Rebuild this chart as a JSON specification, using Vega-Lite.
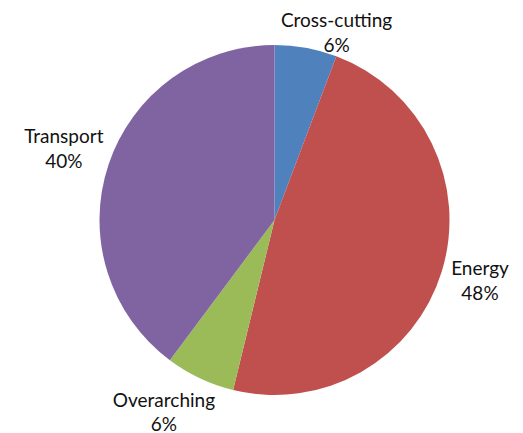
{
  "$schema": "https://vega.github.io/schema/vega-lite/v6.json",
  "width": 523,
  "height": 433,
  "autosize": {"type": "fit", "contains": "padding"},
  "padding": {"left": 26, "top": 7, "right": 0, "bottom": 0},
  "background": "white",
  "view": {"stroke": null},
  "data": {
    "values": [
      {"category": "Cross-cutting", "value": 5.75, "pct": "6%"},
      {"category": "Energy", "value": 48.05, "pct": "48%"},
      {"category": "Overarching", "value": 6.4, "pct": "6%"},
      {"category": "Transport", "value": 39.8, "pct": "40%"}
    ]
  },
  "transform": [
    {"stack": "value", "groupby": [], "sort": [{"field": "category", "order": "ascending"}], "as": ["v0", "v1"]},
    {"calculate": "(datum.v0 + datum.v1) / 2", "as": "mid"},
    {"calculate": "datum.category + '\\n' + datum.pct", "as": "label"}
  ],
  "layer": [
    {
      "mark": {"type": "arc", "outerRadius": 175},
      "encoding": {
        "theta": {"field": "v0", "type": "quantitative", "stack": null, "scale": {"domain": [0, 100]}},
        "theta2": {"field": "v1"},
        "color": {
          "field": "category",
          "type": "nominal",
          "scale": {"domain": ["Cross-cutting", "Energy", "Overarching", "Transport"], "range": ["#4F81BD", "#C0504D", "#9BBB59", "#8064A2"]},
          "legend": null
        }
      }
    },
    {
      "transform": [{"filter": "datum.category === 'Cross-cutting'"}],
      "mark": {"type": "text", "radius": 195, "dx": 27, "dy": -7, "fontSize": 19, "font": "Lato", "lineBreak": "\n", "lineHeight": 25, "align": "center", "baseline": "middle", "color": "#111111"},
      "encoding": {"theta": {"field": "mid", "type": "quantitative", "stack": null}, "text": {"field": "label"}}
    },
    {
      "transform": [{"filter": "datum.category === 'Energy'"}],
      "mark": {"type": "text", "radius": 213, "dx": 2, "dy": -14, "fontSize": 19, "font": "Lato", "lineBreak": "\n", "lineHeight": 25, "align": "center", "baseline": "middle", "color": "#111111"},
      "encoding": {"theta": {"field": "mid", "type": "quantitative", "stack": null}, "text": {"field": "label"}}
    },
    {
      "transform": [{"filter": "datum.category === 'Overarching'"}],
      "mark": {"type": "text", "radius": 215, "dx": -19, "dy": -14, "fontSize": 19, "font": "Lato", "lineBreak": "\n", "lineHeight": 24, "align": "center", "baseline": "middle", "color": "#111111"},
      "encoding": {"theta": {"field": "mid", "type": "quantitative", "stack": null}, "text": {"field": "label"}}
    },
    {
      "transform": [{"filter": "datum.category === 'Transport'"}],
      "mark": {"type": "text", "radius": 222, "dx": 0, "dy": -13, "fontSize": 19, "font": "Lato", "lineBreak": "\n", "lineHeight": 25, "align": "center", "baseline": "middle", "color": "#111111"},
      "encoding": {"theta": {"field": "mid", "type": "quantitative", "stack": null}, "text": {"field": "label"}}
    }
  ]
}
